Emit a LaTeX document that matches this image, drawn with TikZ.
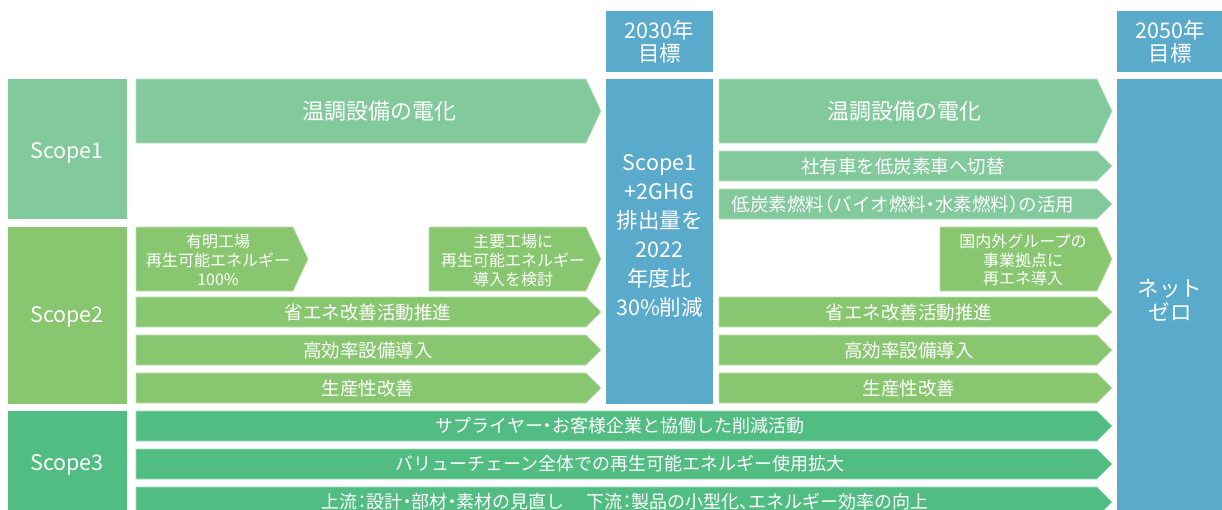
\documentclass[tikz,border=0pt]{standalone}
\usepackage{fontspec}
\setmainfont{Noto Sans CJK JP}[RawFeature=+halt]
\definecolor{scopeone}{HTML}{82CA9B}
\definecolor{scopetwo}{HTML}{88C770}
\definecolor{scopethree}{HTML}{52BD83}
\definecolor{goalblue}{HTML}{5AABCB}
\tikzset{
  lbl/.style={text=white, inner sep=0pt, align=center},
  big/.style={lbl, font=\fontsize{22}{26}\selectfont},
  mid/.style={lbl, font=\fontsize{18.5}{22}\selectfont},
  sml/.style={lbl, font=\fontsize{16}{19}\selectfont},
  row/.style={lbl, font=\fontsize{18}{21}\selectfont},
  head/.style={lbl, font=\fontsize{21.5}{23}\selectfont},
  arrowfill/.style={fill=#1, draw=#1!55!white, line width=0.6pt}
}
% arrow band: colour, left x, body end x, top y, bottom y
\newcommand{\band}[5]{%
  \filldraw[arrowfill=#1] (#2,#4) -- (#3,#4) -- ({#3+15},{(#4+#5)/2}) -- (#3,#5) -- (#2,#5) -- cycle;}
\begin{document}
\begin{tikzpicture}[x=1pt,y=-1pt]
\useasboundingbox (0,0) rectangle (1222,509);

% Scope boxes on the left
\fill[scopeone] (8,79) rectangle (127,219);
\fill[scopetwo] (8,227) rectangle (127,404);
\fill[scopethree] (8,411) rectangle (127,520);
\node[head] (sc1) at (67,153) {Scope1};
\node[head] (sc2) at (67,317) {Scope2};
\node[head] (sc3) at (67,465) {Scope3};

% Goal columns
\fill[goalblue] (606,11) rectangle (713,72);
\fill[goalblue] (606,79) rectangle (713,404);
\fill[goalblue] (1117,11) rectangle (1230,72);
\fill[goalblue] (1117,79) rectangle (1230,520);
\node[head] (g30) at (659.5,42) {2030年\\目標};
\node[lbl, font=\fontsize{21.5}{29}\selectfont] (g30txt) at (659.5,236)
  {Scope1\\+2GHG\\排出量を\\2022\\年度比\\30\%削減};
\node[head] (g50) at (1170,42) {2050年\\目標};
\node[lbl, font=\fontsize{21.5}{24}\selectfont] (g50txt) at (1170,300) {ネット\\ゼロ};

% Scope1 measures
\band{scopeone}{136}{586}{79}{143}
\band{scopeone}{719}{1097}{79}{143}
\band{scopeone}{719}{1097}{151}{181}
\band{scopeone}{719}{1097}{189}{219}
\node[big] (elecL) at (379,111) {温調設備の電化};
\node[big] (elecR) at (904,111) {温調設備の電化};
\node[mid] (car) at (903,166) {社有車を低炭素車へ切替};
\node[mid] (fuel) at (903,204) {低炭素燃料（バイオ燃料・水素燃料）の活用};

% Scope2 measures
\band{scopetwo}{136}{293}{227}{291}
\band{scopetwo}{429}{586}{227}{291}
\band{scopetwo}{940}{1097}{227}{291}
\node[sml] (ariake) at (218,260) {有明工場\\再生可能エネルギー\\100\%};
\node[sml] (main) at (513,260) {主要工場に\\再生可能エネルギー\\導入を検討};
\node[lbl, font=\fontsize{16}{18.5}\selectfont] (group) at (1023,260) {国内外グループの\\事業拠点に\\再エネ導入};
\foreach \y/\t [count=\i] in {297/省エネ改善活動推進, 335/高効率設備導入, 373/生産性改善} {
  \band{scopetwo}{136}{586}{\y}{\y+30}
  \band{scopetwo}{719}{1097}{\y}{\y+30}
  \node[mid] (twoL\i) at (368,\y+15) {\t};
  \node[mid] (twoR\i) at (909,\y+15) {\t};
}

% Scope3 measures
\band{scopethree}{136}{1097}{411}{441}
\band{scopethree}{136}{1097}{449}{479}
\band{scopethree}{136}{1097}{487}{517}
\node[row] (three1) at (620,426) {サプライヤー・お客様企業と協働した削減活動};
\node[row] (three2) at (620,464) {バリューチェーン全体での再生可能エネルギー使用拡大};
\node[row] (three3) at (625,502) {上流：設計・部材・素材の見直し\hspace{22pt}下流：製品の小型化、エネルギー効率の向上};
\end{tikzpicture}
\end{document}
